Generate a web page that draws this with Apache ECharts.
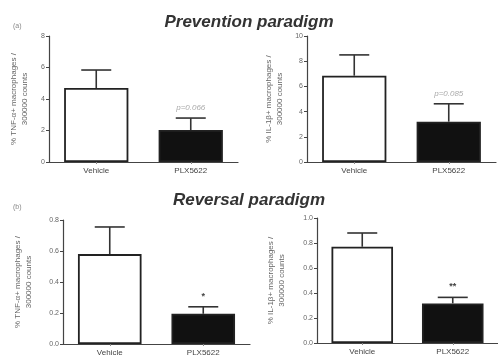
<!DOCTYPE html>
<html><head><meta charset="utf-8">
<script src="https://cdn.jsdelivr.net/npm/echarts@6/dist/echarts.min.js"></script>
<style>html,body{margin:0;padding:0;background:#fff}#c{width:498px;height:362px}</style>
</head><body><div id="c"></div>
<script>
const categories = ['Vehicle', 'PLX5622'];
const tnfPrevMean = [4.7, 2.03];
const tnfPrevErr = [5.84, 2.79];
const il1PrevMean = [6.85, 3.2];
const il1PrevErr = [8.5, 4.62];
const tnfRevMean = [0.58, 0.195];
const tnfRevErr = [0.755, 0.24];
const il1RevMean = [0.77, 0.317];
const il1RevErr = [0.88, 0.365];
const notesPrevTnf = ['', 'p=0.066'];
const notesPrevIl1 = ['', 'p=0.085'];
const notesRevTnf = ['', '*'];
const notesRevIl1 = ['', '**'];
const yMax = [8, 10, 0.8, 1.0];
const yInterval = [2, 2, 0.2, 0.2];
const yNames = ['% TNF-α+ macrophages /\n300000 counts', '% IL-1β+ macrophages /\n300000 counts', '% TNF-α+ macrophages /\n300000 counts', '% IL-1β+ macrophages /\n300000 counts'];

const FONT = 'Liberation Sans';
const panels = [
  {mean: tnfPrevMean, err: tnfPrevErr, notes: notesPrevTnf, noteColor: '#aaa', grid: {left: 49, top: 36, right: 260, bottom: 200}, dec: 0, gap: 19},
  {mean: il1PrevMean, err: il1PrevErr, notes: notesPrevIl1, noteColor: '#aaa', grid: {left: 307, top: 36, right: 2, bottom: 200}, dec: 0, gap: 22},
  {mean: tnfRevMean, err: tnfRevErr, notes: notesRevTnf, noteColor: '#444', grid: {left: 63, top: 220, right: 248, bottom: 18}, dec: 1, gap: 29},
  {mean: il1RevMean, err: il1RevErr, notes: notesRevIl1, noteColor: '#444', grid: {left: 317, top: 218, right: -6, bottom: 19}, dec: 1, gap: 30}
];

const grid = [], xAxis = [], yAxis = [], series = [];
panels.forEach((p, i) => {
  grid.push(p.grid);
  xAxis.push({type: 'category', gridIndex: i, data: categories,
    axisLine: {lineStyle: {color: '#444', width: 1.2}},
    axisTick: {show: true, alignWithLabel: true, length: 2, lineStyle: {color: '#888'}},
    axisLabel: {fontFamily: FONT, fontSize: 8, color: '#444', margin: 5}});
  yAxis.push({type: 'value', gridIndex: i, min: 0, max: yMax[i], interval: yInterval[i],
    name: yNames[i], nameLocation: 'middle', nameRotate: 90, nameGap: p.gap,
    nameTextStyle: {fontFamily: FONT, fontSize: 8, color: '#666', lineHeight: 11},
    axisLine: {show: true, lineStyle: {color: '#444', width: 1.2}},
    axisTick: {show: true, length: 3, lineStyle: {color: '#444'}},
    splitLine: {show: false},
    axisLabel: {fontFamily: FONT, fontSize: 7, color: '#666', margin: 4,
      formatter: v => v.toFixed(p.dec)}});
  series.push({type: 'bar', xAxisIndex: i, yAxisIndex: i, barWidth: '68%',
    data: p.mean.map((v, k) => ({value: v, itemStyle: {color: k === 0 ? '#fff' : '#111', borderColor: '#222', borderWidth: 1.8}})),
    z: 2});
  series.push({type: 'custom', xAxisIndex: i, yAxisIndex: i, z: 3,
    data: p.mean.map((v, k) => [k, v, p.err[k]]),
    renderItem: (params, api) => {
      const k = api.value(0);
      const base = api.coord([k, api.value(1)]);
      const top = api.coord([k, api.value(2)]);
      const half = 15;
      const note = p.notes[k];
      const children = [
        {type: 'line', shape: {x1: base[0], y1: base[1], x2: top[0], y2: top[1]}, style: {stroke: '#333', lineWidth: 1.6}},
        {type: 'line', shape: {x1: top[0] - half, y1: top[1], x2: top[0] + half, y2: top[1]}, style: {stroke: '#333', lineWidth: 1.6}}
      ];
      if (note) {
        children.push({type: 'text', x: top[0], y: top[1] - 6,
          style: {text: note, fill: p.noteColor, font: (note.startsWith('p') ? 'italic 8px ' : 'bold 9px ') + FONT,
            textAlign: 'center', textVerticalAlign: 'bottom'}});
      }
      return {type: 'group', children};
    }});
});

const chart = echarts.init(document.getElementById('c'), null, {renderer: 'canvas'});
chart.setOption({
  animation: false,
  backgroundColor: '#fff',
  title: [
    {text: 'Prevention paradigm', left: 'center', top: 9, textStyle: {fontFamily: FONT, fontSize: 17, fontWeight: 'bold', fontStyle: 'italic', color: '#333'}},
    {text: 'Reversal paradigm', left: 'center', top: 187, textStyle: {fontFamily: FONT, fontSize: 17, fontWeight: 'bold', fontStyle: 'italic', color: '#333'}},
    {text: '(a)', left: 8, top: 18, textStyle: {fontFamily: FONT, fontSize: 7, fontWeight: 'normal', color: '#888'}},
    {text: '(b)', left: 8, top: 199, textStyle: {fontFamily: FONT, fontSize: 7, fontWeight: 'normal', color: '#888'}}
  ],
  grid, xAxis, yAxis, series
});
</script></body></html>
